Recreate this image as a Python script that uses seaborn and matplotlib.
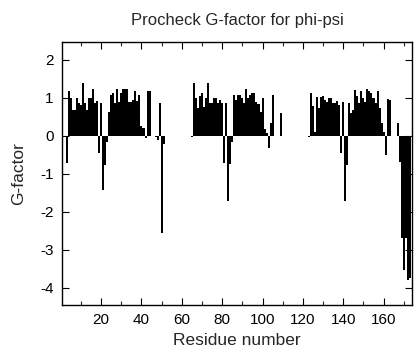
import numpy as np
import pandas as pd
import matplotlib
matplotlib.use("Agg")
import matplotlib.pyplot as plt
import seaborn as sns
from matplotlib.ticker import MultipleLocator

# G-factor per residue, one list per stretch
res_a = list(range(3, 45))
gf_a = [-0.72, 1.17, 0.99, 0.68, 0.68, 0.99, 0.86, 0.82, 1.39, 0.88,
        0.67, 0.99, 0.99, 1.23, 0.86, 0.93, -0.46, 0.88, -1.42, -0.76,
        -0.15, 0.64, 1.08, 1.12, 0.88, 1.23, 0.90, 1.12, 1.23, 1.23,
        1.23, 0.90, 0.90, 0.95, 1.17, 0.93, 1.08, 0.26, 0.22, -0.06,
        1.17, 1.17]

res_b = [47, 48, 49, 50, 51]
gf_b = [-0.03, -0.10, 0.86, -2.56, -0.22]

res_c = list(range(65, 106))
gf_c = [-0.04, 1.39, 0.99, 0.73, 1.04, 1.14, 0.77, 0.99, 1.39, 0.88,
        0.88, 0.99, 0.99, 0.88, 0.95, 0.86, -0.70, 0.88, -1.72, -0.74,
        -0.15, 1.08, 0.95, 1.08, 1.08, 0.99, 0.88, 1.23, 0.99, 1.08,
        1.12, 1.14, 0.90, 0.84, 0.64, 0.99, 0.18, 0.07, -0.32, 0.35,
        1.08]

res_d = [109]
gf_d = [0.60]

res_e = list(range(123, 164))
gf_e = [-0.04, 1.14, 0.79, 0.11, 1.03, 0.73, 1.02, 1.05, 0.95, 0.90,
        0.99, 0.99, 0.88, 0.86, 0.93, 0.82, -0.44, 0.90, -1.72, -0.76,
        0.86, 0.60, 0.68, 1.21, 1.05, 0.86, 1.19, 1.00, 0.90, 1.23,
        1.19, 1.12, 0.99, 0.88, 1.19, 0.73, 0.33, 0.11, -0.50, 0.96,
        0.95]

res_f = list(range(167, 174))
gf_f = [0.35, -0.68, -2.69, -3.53, -2.70, -3.80, -3.75]

df = pd.DataFrame({
    "residue": res_a + res_b + res_c + res_d + res_e + res_f,
    "gfactor": gf_a + gf_b + gf_c + gf_d + gf_e + gf_f,
})

sns.set_theme(style="ticks")
plt.rcParams["font.family"] = ["Liberation Sans", "DejaVu Sans"]
plt.rcParams["axes.unicode_minus"] = False

fig = plt.figure(figsize=(4.16, 3.6), dpi=100)
ax = fig.add_axes([0.149, 0.153, 0.841, 0.730])

sns.barplot(data=df, x="residue", y="gfactor", native_scale=True,
            color="black", width=1.0, edgecolor="none", saturation=1,
            errorbar=None, ax=ax)

ax.set_xlim(0.6, 174.0)
ax.set_ylim(-4.45, 2.47)
ax.xaxis.set_minor_locator(MultipleLocator(10))
ax.yaxis.set_major_locator(MultipleLocator(1))
ax.set_xticks([20, 40, 60, 80, 100, 120, 140, 160])

for side in ax.spines.values():
    side.set_visible(True)
    side.set_color("black")
    side.set_linewidth(1.0)

ax.tick_params(axis="both", which="major", direction="in", length=5,
               width=0.8, top=True, right=True, labelsize=11, colors="black",
               pad=6)
ax.tick_params(axis="x", which="minor", direction="in", length=3,
               width=0.8, top=True)

ax.set_title("Procheck G-factor for phi-psi", fontsize=12, pad=12)
ax.set_xlabel("Residue number", fontsize=12.5, labelpad=4)
ax.set_ylabel("G-factor", fontsize=12.5, labelpad=10)

fig.savefig("out.png", dpi=100, facecolor="white")
